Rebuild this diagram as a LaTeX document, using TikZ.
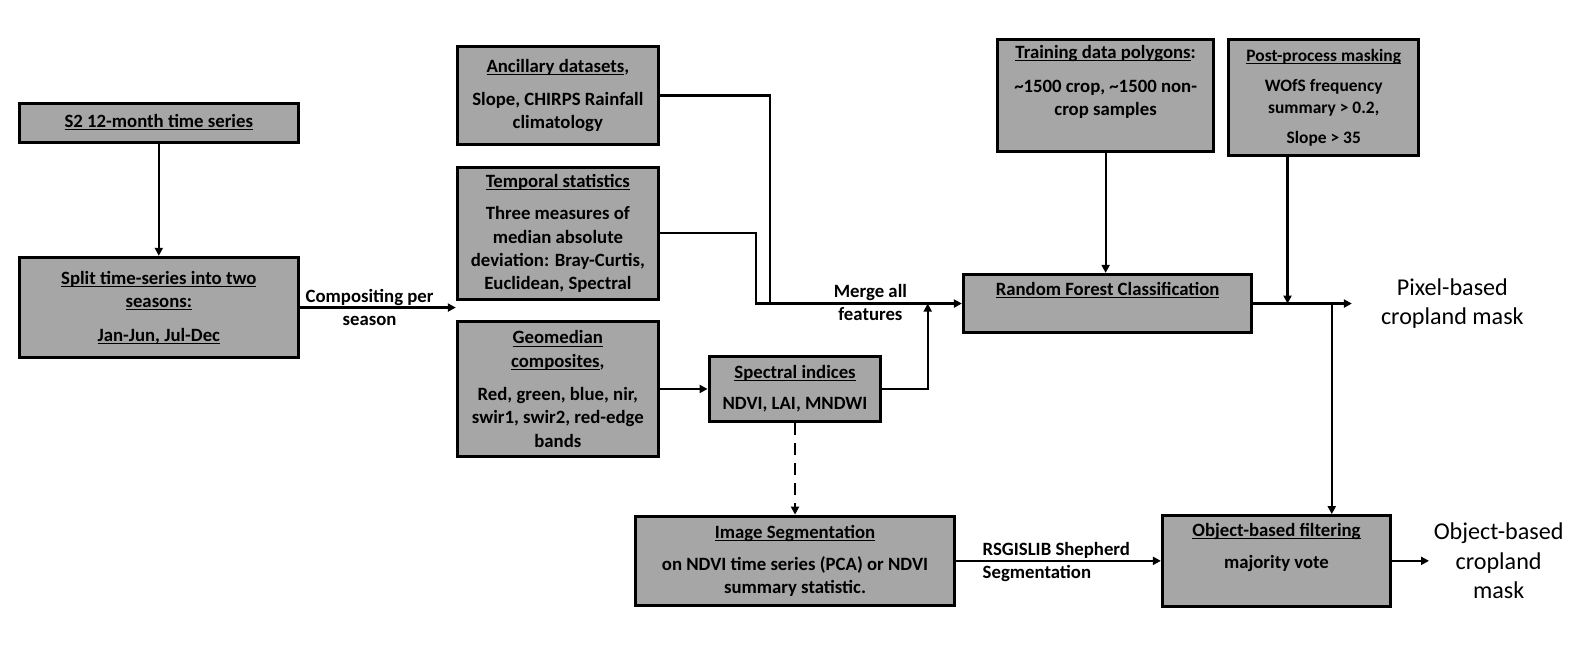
\documentclass[tikz,border=0pt]{standalone}
\usepackage{fontspec}
\setmainfont{Carlito}
\usetikzlibrary{arrows.meta}
\definecolor{boxgray}{HTML}{A6A6A6}
\newlength{\pxu}
\setlength{\pxu}{0.75pt}
\newcommand{\hd}[1]{\underline{\smash{#1}}\vphantom{#1}}
\tikzset{
 bx/.style={rectangle,draw,line width=2.25pt,fill=boxgray,align=center,inner sep=2pt,
  font=\bfseries\fontsize{14}{17.25}\selectfont},
 ln/.style={line width=1.6pt},
 ar/.style={ln,-{Triangle[length=6pt,width=6pt]}},
 lb/.style={align=center,font=\bfseries\fontsize{14}{17}\selectfont},
 ot/.style={align=center,font=\fontsize{18}{21.75}\selectfont}}

\begin{document}
\begin{tikzpicture}[x=0.75pt,y=-0.75pt]
 \useasboundingbox (0,0) rectangle (1568,650);
 \node[bx,minimum width=277\pxu,minimum height=39\pxu] (s2) at (158,122) {\hd{S2 12-month time series}};
 \node[bx,minimum width=277\pxu,minimum height=100\pxu] (split) at (158,306) {\hd{Split time-series into two}\\\hd{seasons:}\\[8pt]\hd{Jan-Jun, Jul-Dec}};
 \node[bx,minimum width=200\pxu,minimum height=98\pxu] (anc) at (555,95) {\hd{Ancillary datasets},\\[8pt]Slope, CHIRPS Rainfall\\climatology};
 \node[bx,minimum width=200\pxu,minimum height=131\pxu] (temp) at (555,232) {\hd{Temporal statistics}\\[7pt]Three measures of\\median absolute\\deviation: Bray-Curtis,\\Euclidean, Spectral};
 \node[bx,minimum width=200\pxu,minimum height=135\pxu] (geo) at (555,387) {\hd{Geomedian}\\\hd{composites},\\[8pt]Red, green, blue, nir,\\swir1, swir2, red-edge\\bands};
 \node[bx,minimum width=171\pxu,minimum height=64\pxu] (spec) at (791,387) {\hd{Spectral indices}\\[6pt]NDVI, LAI, MNDWI};
 \node[bx,minimum width=215\pxu,minimum height=111\pxu] (train) at (1100,95) {\hd{Training data polygons}:\\[8pt]\textasciitilde1500 crop, \textasciitilde1500 non-\\crop samples\\\strut};
 \node[bx,minimum width=189\pxu,minimum height=115\pxu,font=\bfseries\fontsize{13}{16.5}\selectfont] (post) at (1317,97) {\hd{Post-process masking}\\[6pt]WOfS frequency\\summary > 0.2,\\[6pt]Slope > 35};
 \node[bx,minimum width=287\pxu,minimum height=58\pxu] (rf) at (1102,302) {\hd{Random Forest Classification}\\\strut};
 \node[bx,minimum width=317\pxu,minimum height=89\pxu] (seg) at (791,558) {\hd{Image Segmentation}\\[7pt]on NDVI time series (PCA) or NDVI\\summary statistic.};
 \node[bx,minimum width=227\pxu,minimum height=90\pxu] (obf) at (1270,558) {\hd{Object-based filtering}\\[7pt]majority vote\\\strut};
 \node[ot] (pix) at (1445,302) {Pixel-based\\cropland mask};
 \node[ot] (obm) at (1491,558) {Object-based\\cropland\\mask};
 \node[lb] (mrg) at (866,301) {Merge all\\features};
 \node[lb,align=left,anchor=west] (rsg) at (973,559) {RSGISLIB Shepherd\\Segmentation};
 \coordinate (ja) at (766,302);
 \coordinate (jt) at (752,302);
 \coordinate (js) at (923,302);
 \coordinate (jp) at (1281,302);
 \coordinate (jo) at (1325,302);
 \coordinate (po) at (1345,302);

 \draw[ar] (s2) -- (split);
 \draw[ar] (split.east) -- (split.east -| geo.west) node[lb,midway,xshift=-6] (cmp) {Compositing per\\season};
 \draw[ln] (anc.east) -| (ja);
 \draw[ar] (temp.east) -| (jt) -- (rf.west);
 \draw[ar] (geo.east) -- (spec.west);
 \draw[ar] (spec.east) -| (js);
 \draw[ar,dash pattern=on 9pt off 6pt] (spec) -- (seg);
 \draw[ar] (train.south) -- (train.south |- rf.north);
 \draw[ar] (jp |- post.south) -- (jp);
 \draw[ar] (rf.east) -- (po);
 \draw[ar] (jo) -- (jo |- obf.north);
 \draw[ar] (seg.east) -- (obf.west);
 \draw[ar] (obf.east) -- (obf.east -| obm.west);
\end{tikzpicture}
\end{document}
